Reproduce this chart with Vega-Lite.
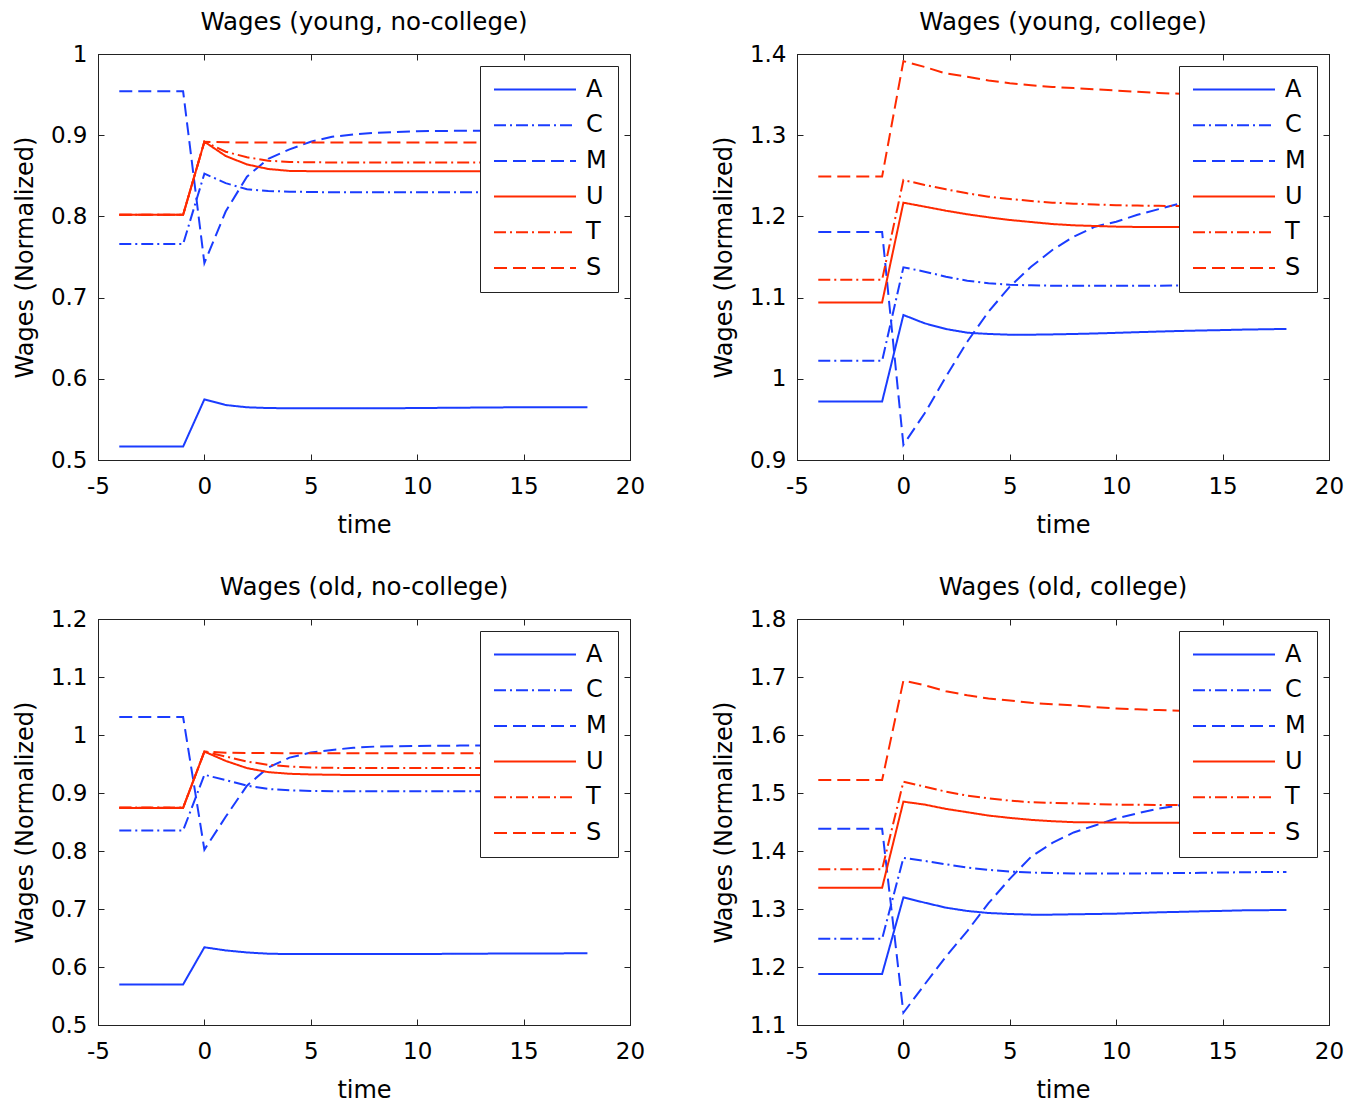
{
  "$schema": "https://vega.github.io/schema/vega-lite/v6.json",
  "background": "white",
  "padding": {"left": 12, "top": 9, "right": 5, "bottom": 5},
  "datasets": {
    "w": [
      {"p":1,"t":-4,"A":0.5165,"C":0.766,"M":0.954,"U":0.802,"T":0.802,"S":0.802},
      {"p":1,"t":-3,"A":0.5165,"C":0.766,"M":0.954,"U":0.802,"T":0.802,"S":0.802},
      {"p":1,"t":-2,"A":0.5165,"C":0.766,"M":0.954,"U":0.802,"T":0.802,"S":0.802},
      {"p":1,"t":-1,"A":0.5165,"C":0.766,"M":0.954,"U":0.802,"T":0.802,"S":0.802},
      {"p":1,"t":0,"A":0.5747,"C":0.8527,"M":0.7426,"U":0.892,"T":0.892,"S":0.892},
      {"p":1,"t":1,"A":0.5677,"C":0.841,"M":0.806,"U":0.8744,"T":0.8797,"S":0.8912},
      {"p":1,"t":2,"A":0.5649,"C":0.8334,"M":0.849,"U":0.864,"T":0.8728,"S":0.891},
      {"p":1,"t":3,"A":0.564,"C":0.8313,"M":0.871,"U":0.8584,"T":0.8686,"S":0.891},
      {"p":1,"t":4,"A":0.5637,"C":0.8305,"M":0.8826,"U":0.856,"T":0.867,"S":0.891},
      {"p":1,"t":5,"A":0.5636,"C":0.83,"M":0.892,"U":0.8557,"T":0.8666,"S":0.891},
      {"p":1,"t":6,"A":0.5636,"C":0.8297,"M":0.898,"U":0.8555,"T":0.8665,"S":0.891},
      {"p":1,"t":7,"A":0.5636,"C":0.8297,"M":0.901,"U":0.8555,"T":0.8665,"S":0.891},
      {"p":1,"t":8,"A":0.5636,"C":0.8297,"M":0.903,"U":0.8555,"T":0.8665,"S":0.891},
      {"p":1,"t":9,"A":0.5638,"C":0.8297,"M":0.904,"U":0.8555,"T":0.8665,"S":0.891},
      {"p":1,"t":10,"A":0.564,"C":0.8297,"M":0.905,"U":0.8555,"T":0.8665,"S":0.891},
      {"p":1,"t":11,"A":0.5642,"C":0.8297,"M":0.9052,"U":0.8555,"T":0.8665,"S":0.891},
      {"p":1,"t":12,"A":0.5644,"C":0.8297,"M":0.9054,"U":0.8555,"T":0.8665,"S":0.891},
      {"p":1,"t":13,"A":0.5646,"C":0.8297,"M":0.9055,"U":0.8555,"T":0.8665,"S":0.891},
      {"p":1,"t":14,"A":0.5648,"C":0.8297,"M":0.9056,"U":0.8555,"T":0.8665,"S":0.891},
      {"p":1,"t":15,"A":0.565,"C":0.8297,"M":0.9056,"U":0.8555,"T":0.8665,"S":0.891},
      {"p":1,"t":16,"A":0.565,"C":0.8297,"M":0.9056,"U":0.8555,"T":0.8665,"S":0.891},
      {"p":1,"t":17,"A":0.565,"C":0.8297,"M":0.9056,"U":0.8555,"T":0.8665,"S":0.891},
      {"p":1,"t":18,"A":0.565,"C":0.8297,"M":0.9056,"U":0.8555,"T":0.8665,"S":0.891},

      {"p":2,"t":-4,"A":0.972,"C":1.0222,"M":1.1808,"U":1.0941,"T":1.122,"S":1.249},
      {"p":2,"t":-3,"A":0.972,"C":1.0222,"M":1.1808,"U":1.0941,"T":1.122,"S":1.249},
      {"p":2,"t":-2,"A":0.972,"C":1.0222,"M":1.1808,"U":1.0941,"T":1.122,"S":1.249},
      {"p":2,"t":-1,"A":0.972,"C":1.0222,"M":1.1808,"U":1.0941,"T":1.122,"S":1.249},
      {"p":2,"t":0,"A":1.0786,"C":1.1373,"M":0.9186,"U":1.2169,"T":1.2448,"S":1.3912},
      {"p":2,"t":1,"A":1.0683,"C":1.1319,"M":0.9575,"U":1.212,"T":1.2387,"S":1.384},
      {"p":2,"t":2,"A":1.0613,"C":1.1258,"M":1.0026,"U":1.207,"T":1.2334,"S":1.376},
      {"p":2,"t":3,"A":1.0568,"C":1.1208,"M":1.0457,"U":1.2026,"T":1.2284,"S":1.372},
      {"p":2,"t":4,"A":1.0552,"C":1.1176,"M":1.0826,"U":1.1989,"T":1.2243,"S":1.3675},
      {"p":2,"t":5,"A":1.0543,"C":1.1159,"M":1.1135,"U":1.1956,"T":1.2214,"S":1.364},
      {"p":2,"t":6,"A":1.0543,"C":1.1151,"M":1.138,"U":1.1931,"T":1.219,"S":1.3615},
      {"p":2,"t":7,"A":1.0547,"C":1.1147,"M":1.1586,"U":1.1906,"T":1.2169,"S":1.3595},
      {"p":2,"t":8,"A":1.0552,"C":1.1145,"M":1.175,"U":1.189,"T":1.2157,"S":1.358},
      {"p":2,"t":9,"A":1.0558,"C":1.1145,"M":1.1873,"U":1.1882,"T":1.2147,"S":1.3565},
      {"p":2,"t":10,"A":1.0566,"C":1.1145,"M":1.1935,"U":1.1874,"T":1.2137,"S":1.355},
      {"p":2,"t":11,"A":1.0574,"C":1.1146,"M":1.202,"U":1.187,"T":1.2133,"S":1.3535},
      {"p":2,"t":12,"A":1.0582,"C":1.1147,"M":1.209,"U":1.187,"T":1.213,"S":1.352},
      {"p":2,"t":13,"A":1.0589,"C":1.1148,"M":1.216,"U":1.187,"T":1.2128,"S":1.351},
      {"p":2,"t":14,"A":1.0595,"C":1.115,"M":1.222,"U":1.187,"T":1.2127,"S":1.3503},
      {"p":2,"t":15,"A":1.06,"C":1.1152,"M":1.227,"U":1.187,"T":1.2127,"S":1.3497},
      {"p":2,"t":16,"A":1.0606,"C":1.1154,"M":1.231,"U":1.187,"T":1.2127,"S":1.3492},
      {"p":2,"t":17,"A":1.061,"C":1.1156,"M":1.234,"U":1.187,"T":1.2127,"S":1.3488},
      {"p":2,"t":18,"A":1.0614,"C":1.1158,"M":1.237,"U":1.187,"T":1.2127,"S":1.3485},

      {"p":3,"t":-4,"A":0.57,"C":0.8354,"M":1.0309,"U":0.8743,"T":0.875,"S":0.8745},
      {"p":3,"t":-3,"A":0.57,"C":0.8354,"M":1.0309,"U":0.8743,"T":0.875,"S":0.8745},
      {"p":3,"t":-2,"A":0.57,"C":0.8354,"M":1.0309,"U":0.8743,"T":0.875,"S":0.8745},
      {"p":3,"t":-1,"A":0.57,"C":0.8354,"M":1.0309,"U":0.8743,"T":0.875,"S":0.8745},
      {"p":3,"t":0,"A":0.634,"C":0.9314,"M":0.8023,"U":0.9714,"T":0.9714,"S":0.9714},
      {"p":3,"t":1,"A":0.6286,"C":0.9223,"M":0.859,"U":0.9554,"T":0.9629,"S":0.9695},
      {"p":3,"t":2,"A":0.6251,"C":0.9126,"M":0.9126,"U":0.9429,"T":0.9543,"S":0.969},
      {"p":3,"t":3,"A":0.6229,"C":0.9069,"M":0.944,"U":0.936,"T":0.9486,"S":0.9688},
      {"p":3,"t":4,"A":0.6223,"C":0.9046,"M":0.961,"U":0.9331,"T":0.9457,"S":0.9686},
      {"p":3,"t":5,"A":0.6222,"C":0.9036,"M":0.9697,"U":0.932,"T":0.944,"S":0.9686},
      {"p":3,"t":6,"A":0.6222,"C":0.9031,"M":0.9743,"U":0.9314,"T":0.9434,"S":0.9686},
      {"p":3,"t":7,"A":0.6222,"C":0.903,"M":0.978,"U":0.931,"T":0.943,"S":0.9686},
      {"p":3,"t":8,"A":0.6222,"C":0.9029,"M":0.98,"U":0.9309,"T":0.9429,"S":0.9686},
      {"p":3,"t":9,"A":0.6223,"C":0.9029,"M":0.9806,"U":0.9309,"T":0.9429,"S":0.9686},
      {"p":3,"t":10,"A":0.6224,"C":0.9029,"M":0.9811,"U":0.9309,"T":0.9429,"S":0.9686},
      {"p":3,"t":11,"A":0.6226,"C":0.9029,"M":0.9814,"U":0.9309,"T":0.9429,"S":0.9686},
      {"p":3,"t":12,"A":0.6228,"C":0.9029,"M":0.9817,"U":0.9309,"T":0.9429,"S":0.9686},
      {"p":3,"t":13,"A":0.623,"C":0.9029,"M":0.9818,"U":0.9309,"T":0.9429,"S":0.9686},
      {"p":3,"t":14,"A":0.6232,"C":0.9028,"M":0.9819,"U":0.9309,"T":0.9429,"S":0.9686},
      {"p":3,"t":15,"A":0.6233,"C":0.9028,"M":0.982,"U":0.9309,"T":0.9429,"S":0.9686},
      {"p":3,"t":16,"A":0.6234,"C":0.9028,"M":0.982,"U":0.9309,"T":0.9429,"S":0.9686},
      {"p":3,"t":17,"A":0.6235,"C":0.9028,"M":0.982,"U":0.9309,"T":0.9429,"S":0.9686},
      {"p":3,"t":18,"A":0.6236,"C":0.9028,"M":0.982,"U":0.9309,"T":0.9429,"S":0.9686},

      {"p":4,"t":-4,"A":1.188,"C":1.2486,"M":1.4383,"U":1.3366,"T":1.3686,"S":1.5223},
      {"p":4,"t":-3,"A":1.188,"C":1.2486,"M":1.4383,"U":1.3366,"T":1.3686,"S":1.5223},
      {"p":4,"t":-2,"A":1.188,"C":1.2486,"M":1.4383,"U":1.3366,"T":1.3686,"S":1.5223},
      {"p":4,"t":-1,"A":1.188,"C":1.2486,"M":1.4383,"U":1.3366,"T":1.3686,"S":1.5223},
      {"p":4,"t":0,"A":1.32,"C":1.388,"M":1.1211,"U":1.4851,"T":1.5194,"S":1.6937},
      {"p":4,"t":1,"A":1.3109,"C":1.3829,"M":1.17,"U":1.48,"T":1.5109,"S":1.6857},
      {"p":4,"t":2,"A":1.3023,"C":1.3771,"M":1.218,"U":1.4726,"T":1.5023,"S":1.6754},
      {"p":4,"t":3,"A":1.2966,"C":1.3714,"M":1.262,"U":1.4669,"T":1.4954,"S":1.6686},
      {"p":4,"t":4,"A":1.2931,"C":1.3674,"M":1.31,"U":1.4611,"T":1.4909,"S":1.6629},
      {"p":4,"t":5,"A":1.2914,"C":1.3646,"M":1.352,"U":1.4571,"T":1.4869,"S":1.6594},
      {"p":4,"t":6,"A":1.2903,"C":1.3629,"M":1.39,"U":1.4537,"T":1.484,"S":1.6554},
      {"p":4,"t":7,"A":1.2903,"C":1.3619,"M":1.414,"U":1.4514,"T":1.483,"S":1.653},
      {"p":4,"t":8,"A":1.2909,"C":1.3611,"M":1.432,"U":1.4497,"T":1.4823,"S":1.6509},
      {"p":4,"t":9,"A":1.2914,"C":1.361,"M":1.444,"U":1.4494,"T":1.481,"S":1.648},
      {"p":4,"t":10,"A":1.292,"C":1.361,"M":1.456,"U":1.4491,"T":1.48,"S":1.6457},
      {"p":4,"t":11,"A":1.2931,"C":1.3613,"M":1.465,"U":1.4488,"T":1.4797,"S":1.6442},
      {"p":4,"t":12,"A":1.2943,"C":1.3617,"M":1.473,"U":1.4486,"T":1.4794,"S":1.6429},
      {"p":4,"t":13,"A":1.2951,"C":1.362,"M":1.479,"U":1.4485,"T":1.4792,"S":1.642},
      {"p":4,"t":14,"A":1.296,"C":1.3624,"M":1.484,"U":1.4485,"T":1.479,"S":1.641},
      {"p":4,"t":15,"A":1.2968,"C":1.3629,"M":1.488,"U":1.4485,"T":1.479,"S":1.6402},
      {"p":4,"t":16,"A":1.2977,"C":1.3634,"M":1.491,"U":1.4485,"T":1.479,"S":1.6395},
      {"p":4,"t":17,"A":1.298,"C":1.3637,"M":1.494,"U":1.4485,"T":1.479,"S":1.639},
      {"p":4,"t":18,"A":1.2983,"C":1.364,"M":1.496,"U":1.4485,"T":1.479,"S":1.6385}
    ]
  },
  "columns": 2,
  "spacing": {"row": 36, "column": 65},
  "concat": [
    {
      "title": "Wages (young, no-college)",
      "width": 532, "height": 406,
      "data": {"name": "w"},
      "transform": [{"filter": "datum.p == 1"}, {"fold": ["A","C","M","U","T","S"], "as": ["series","value"]}],
      "layer": [
        {
          "mark": {"type": "line", "strokeWidth": 2},
          "encoding": {
            "x": {"field": "t", "type": "quantitative", "scale": {"domain": [-5, 20], "nice": false}, "axis": {"title": "time", "values": [-5,0,5,10,15,20], "labelExpr": "'' + datum.value"}},
            "y": {"field": "value", "type": "quantitative", "scale": {"domain": [0.5, 1], "nice": false, "zero": false}, "axis": {"title": "Wages (Normalized)", "values": [0.5,0.6,0.7,0.8,0.9,1], "format": "~g"}},
            "color": {"field": "series", "type": "nominal", "sort": ["A","C","M","U","T","S"], "scale": {"domain": ["A","C","M","U","T","S"], "range": ["#1a3cff","#1a3cff","#1a3cff","#ff2a00","#ff2a00","#ff2a00"]}, "legend": {"title": null}},
            "strokeDash": {"field": "series", "type": "nominal", "sort": ["A","C","M","U","T","S"], "scale": {"domain": ["A","C","M","U","T","S"], "range": [[1,0],[12,4,2,4],[13,6],[1,0],[12,4,2,4],[13,6]]}, "legend": {"title": null}}
          }
        },
        {
          "mark": {"type": "line", "opacity": 0},
          "encoding": {
            "x": {"field": "t", "type": "quantitative", "scale": {"domain": [-5, 20], "nice": false}, "axis": {"orient": "top", "labels": false, "title": null, "values": [-5,0,5,10,15,20]}},
            "y": {"field": "value", "type": "quantitative", "scale": {"domain": [0.5, 1], "nice": false, "zero": false}, "axis": {"orient": "right", "labels": false, "title": null, "values": [0.5,0.6,0.7,0.8,0.9,1]}},
            "detail": {"field": "series"}
          }
        }
      ],
      "resolve": {"axis": {"x": "independent", "y": "independent"}}
    },
    {
      "title": "Wages (young, college)",
      "width": 532, "height": 406,
      "data": {"name": "w"},
      "transform": [{"filter": "datum.p == 2"}, {"fold": ["A","C","M","U","T","S"], "as": ["series","value"]}],
      "layer": [
        {
          "mark": {"type": "line", "strokeWidth": 2},
          "encoding": {
            "x": {"field": "t", "type": "quantitative", "scale": {"domain": [-5, 20], "nice": false}, "axis": {"title": "time", "values": [-5,0,5,10,15,20], "labelExpr": "'' + datum.value"}},
            "y": {"field": "value", "type": "quantitative", "scale": {"domain": [0.9, 1.4], "nice": false, "zero": false}, "axis": {"title": "Wages (Normalized)", "values": [0.9,1,1.1,1.2,1.3,1.4], "format": "~g"}},
            "color": {"field": "series", "type": "nominal", "sort": ["A","C","M","U","T","S"], "scale": {"domain": ["A","C","M","U","T","S"], "range": ["#1a3cff","#1a3cff","#1a3cff","#ff2a00","#ff2a00","#ff2a00"]}, "legend": {"title": null}},
            "strokeDash": {"field": "series", "type": "nominal", "sort": ["A","C","M","U","T","S"], "scale": {"domain": ["A","C","M","U","T","S"], "range": [[1,0],[12,4,2,4],[13,6],[1,0],[12,4,2,4],[13,6]]}, "legend": {"title": null}}
          }
        },
        {
          "mark": {"type": "line", "opacity": 0},
          "encoding": {
            "x": {"field": "t", "type": "quantitative", "scale": {"domain": [-5, 20], "nice": false}, "axis": {"orient": "top", "labels": false, "title": null, "values": [-5,0,5,10,15,20]}},
            "y": {"field": "value", "type": "quantitative", "scale": {"domain": [0.9, 1.4], "nice": false, "zero": false}, "axis": {"orient": "right", "labels": false, "title": null, "values": [0.9,1,1.1,1.2,1.3,1.4]}},
            "detail": {"field": "series"}
          }
        }
      ],
      "resolve": {"axis": {"x": "independent", "y": "independent"}}
    },
    {
      "title": "Wages (old, no-college)",
      "width": 532, "height": 406,
      "data": {"name": "w"},
      "transform": [{"filter": "datum.p == 3"}, {"fold": ["A","C","M","U","T","S"], "as": ["series","value"]}],
      "layer": [
        {
          "mark": {"type": "line", "strokeWidth": 2},
          "encoding": {
            "x": {"field": "t", "type": "quantitative", "scale": {"domain": [-5, 20], "nice": false}, "axis": {"title": "time", "values": [-5,0,5,10,15,20], "labelExpr": "'' + datum.value"}},
            "y": {"field": "value", "type": "quantitative", "scale": {"domain": [0.5, 1.2], "nice": false, "zero": false}, "axis": {"title": "Wages (Normalized)", "values": [0.5,0.6,0.7,0.8,0.9,1,1.1,1.2], "format": "~g"}},
            "color": {"field": "series", "type": "nominal", "sort": ["A","C","M","U","T","S"], "scale": {"domain": ["A","C","M","U","T","S"], "range": ["#1a3cff","#1a3cff","#1a3cff","#ff2a00","#ff2a00","#ff2a00"]}, "legend": {"title": null}},
            "strokeDash": {"field": "series", "type": "nominal", "sort": ["A","C","M","U","T","S"], "scale": {"domain": ["A","C","M","U","T","S"], "range": [[1,0],[12,4,2,4],[13,6],[1,0],[12,4,2,4],[13,6]]}, "legend": {"title": null}}
          }
        },
        {
          "mark": {"type": "line", "opacity": 0},
          "encoding": {
            "x": {"field": "t", "type": "quantitative", "scale": {"domain": [-5, 20], "nice": false}, "axis": {"orient": "top", "labels": false, "title": null, "values": [-5,0,5,10,15,20]}},
            "y": {"field": "value", "type": "quantitative", "scale": {"domain": [0.5, 1.2], "nice": false, "zero": false}, "axis": {"orient": "right", "labels": false, "title": null, "values": [0.5,0.6,0.7,0.8,0.9,1,1.1,1.2]}},
            "detail": {"field": "series"}
          }
        }
      ],
      "resolve": {"axis": {"x": "independent", "y": "independent"}}
    },
    {
      "title": "Wages (old, college)",
      "width": 532, "height": 406,
      "data": {"name": "w"},
      "transform": [{"filter": "datum.p == 4"}, {"fold": ["A","C","M","U","T","S"], "as": ["series","value"]}],
      "layer": [
        {
          "mark": {"type": "line", "strokeWidth": 2},
          "encoding": {
            "x": {"field": "t", "type": "quantitative", "scale": {"domain": [-5, 20], "nice": false}, "axis": {"title": "time", "values": [-5,0,5,10,15,20], "labelExpr": "'' + datum.value"}},
            "y": {"field": "value", "type": "quantitative", "scale": {"domain": [1.1, 1.8], "nice": false, "zero": false}, "axis": {"title": "Wages (Normalized)", "values": [1.1,1.2,1.3,1.4,1.5,1.6,1.7,1.8], "format": "~g"}},
            "color": {"field": "series", "type": "nominal", "sort": ["A","C","M","U","T","S"], "scale": {"domain": ["A","C","M","U","T","S"], "range": ["#1a3cff","#1a3cff","#1a3cff","#ff2a00","#ff2a00","#ff2a00"]}, "legend": {"title": null}},
            "strokeDash": {"field": "series", "type": "nominal", "sort": ["A","C","M","U","T","S"], "scale": {"domain": ["A","C","M","U","T","S"], "range": [[1,0],[12,4,2,4],[13,6],[1,0],[12,4,2,4],[13,6]]}, "legend": {"title": null}}
          }
        },
        {
          "mark": {"type": "line", "opacity": 0},
          "encoding": {
            "x": {"field": "t", "type": "quantitative", "scale": {"domain": [-5, 20], "nice": false}, "axis": {"orient": "top", "labels": false, "title": null, "values": [-5,0,5,10,15,20]}},
            "y": {"field": "value", "type": "quantitative", "scale": {"domain": [1.1, 1.8], "nice": false, "zero": false}, "axis": {"orient": "right", "labels": false, "title": null, "values": [1.1,1.2,1.3,1.4,1.5,1.6,1.7,1.8]}},
            "detail": {"field": "series"}
          }
        }
      ],
      "resolve": {"axis": {"x": "independent", "y": "independent"}}
    }
  ],
  "resolve": {
    "scale": {"x": "independent", "y": "independent", "color": "independent", "strokeDash": "independent"},
    "legend": {"color": "independent", "strokeDash": "independent"}
  },
  "config": {
    "font": "DejaVu Sans",
    "view": {"stroke": "#222222", "strokeWidth": 1},
    "axis": {
      "grid": false,
      "labelFont": "DejaVu Sans", "labelFontSize": 23, "labelColor": "black",
      "titleFont": "DejaVu Sans", "titleFontSize": 24, "titleFontWeight": "normal", "titleColor": "black",
      "domainColor": "#222222", "domainWidth": 1,
      "tickColor": "#222222", "tickWidth": 1, "tickSize": -6,
      "labelFlush": false, "labelOverlap": false
    },
    "axisX": {"labelPadding": 21, "titlePadding": 15},
    "axisY": {"labelPadding": 17, "titlePadding": 13},
    "title": {"font": "DejaVu Sans", "fontSize": 24.5, "fontWeight": "normal", "color": "black", "offset": 8, "frame": "group", "anchor": "middle"},
    "legend": {
      "orient": "top-right", "offset": 12,
      "padding": 11, "fillColor": "white", "strokeColor": "#222222",
      "symbolType": "stroke", "symbolSize": 6724, "symbolStrokeWidth": 2,
      "symbolOffset": 2, "labelOffset": 9,
      "labelFont": "DejaVu Sans", "labelFontSize": 24, "labelColor": "black",
      "clipHeight": 25, "rowPadding": 10.7
    }
  }
}
